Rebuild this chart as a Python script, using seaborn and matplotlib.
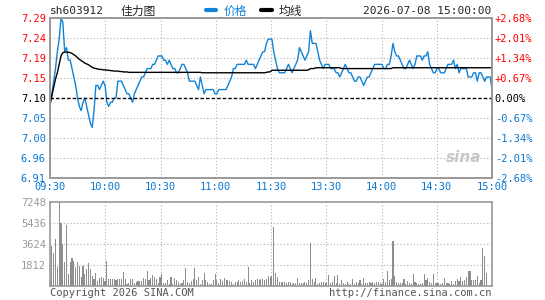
import matplotlib
matplotlib.use("Agg")
import numpy as np
import pandas as pd
import matplotlib.pyplot as plt
from matplotlib.lines import Line2D
import seaborn as sns

# header texts
code = "sh603912"
name = "佳力图"
stamp = "2026-07-08 15:00:00"
prev_close = 7.10

time_labels = ["09:30", "10:00", "10:30", "11:00", "11:30", "13:30", "14:00", "14:30", "15:00"]
price_labels = ["6.91", "6.96", "7.00", "7.05", "7.10", "7.15", "7.19", "7.24", "7.29"]
pct_labels = ["-2.68%", "-2.01%", "-1.34%", "-0.67%", "0.00%", "+0.67%", "+1.34%", "+2.01%", "+2.68%"]
vol_labels = ["1812", "3624", "5436", "7248"]

# minute prices, 09:30-11:30 then 13:00-15:00
price = [
    7.08, 7.11, 7.14, 7.17, 7.21, 7.24, 7.29, 7.28, 7.21, 7.22,
    7.19, 7.19, 7.17, 7.15, 7.13, 7.10, 7.08, 7.07, 7.09, 7.10,
    7.08, 7.06, 7.04, 7.03, 7.07, 7.13, 7.13, 7.12, 7.13, 7.14,
    7.13, 7.09, 7.08, 7.09, 7.09, 7.10, 7.10, 7.14, 7.14, 7.14,
    7.13, 7.12, 7.11, 7.11, 7.10, 7.09, 7.11, 7.12, 7.13, 7.14,
    7.15, 7.15, 7.16, 7.17, 7.17, 7.17, 7.18, 7.18, 7.19, 7.20,
    7.20, 7.20, 7.19, 7.19, 7.18, 7.19, 7.18, 7.17, 7.17, 7.16,
    7.16, 7.17, 7.18, 7.18, 7.17, 7.16, 7.14, 7.14, 7.14, 7.14,
    7.13, 7.12, 7.15, 7.13, 7.11, 7.12, 7.12, 7.12, 7.12, 7.12,
    7.11, 7.11, 7.12, 7.12, 7.12, 7.12, 7.12, 7.13, 7.14, 7.15,
    7.17, 7.17, 7.18, 7.18, 7.18, 7.18, 7.18, 7.19, 7.18, 7.18,
    7.18, 7.18, 7.17, 7.18, 7.19, 7.20, 7.21, 7.21, 7.23, 7.24,
    7.24, 7.24, 7.21, 7.19, 7.17, 7.16, 7.16, 7.16, 7.16, 7.17,
    7.18, 7.17, 7.16, 7.17, 7.18, 7.19, 7.22, 7.21, 7.20, 7.19,
    7.20, 7.21, 7.26, 7.23, 7.23, 7.23, 7.21, 7.19, 7.18, 7.17,
    7.18, 7.18, 7.18, 7.17, 7.17, 7.17, 7.16, 7.16, 7.15, 7.16,
    7.17, 7.18, 7.17, 7.16, 7.16, 7.15, 7.14, 7.14, 7.15, 7.15,
    7.14, 7.13, 7.14, 7.15, 7.15, 7.16, 7.17, 7.18, 7.18, 7.18,
    7.18, 7.18, 7.17, 7.17, 7.18, 7.18, 7.20, 7.23, 7.21, 7.20,
    7.20, 7.19, 7.18, 7.17, 7.17, 7.18, 7.19, 7.18, 7.17, 7.18,
    7.20, 7.20, 7.20, 7.19, 7.20, 7.20, 7.21, 7.18, 7.17, 7.16,
    7.16, 7.17, 7.17, 7.16, 7.16, 7.16, 7.17, 7.18, 7.18, 7.18,
    7.19, 7.17, 7.18, 7.16, 7.17, 7.17, 7.17, 7.17, 7.15, 7.15,
    7.15, 7.16, 7.16, 7.14, 7.16, 7.16, 7.15, 7.14, 7.15, 7.15,
    7.15, 7.12,
]

# average price line
avg_line = [
    7.085, 7.105, 7.125, 7.145, 7.160, 7.180, 7.200, 7.208, 7.209, 7.209,
    7.209, 7.208, 7.206, 7.203, 7.200, 7.196, 7.192, 7.189, 7.186, 7.183,
    7.181, 7.179, 7.176, 7.173, 7.171, 7.170, 7.169, 7.168, 7.168, 7.167,
    7.167, 7.166, 7.166, 7.165, 7.165, 7.164, 7.164, 7.164, 7.163, 7.163,
    7.162, 7.162, 7.162, 7.161, 7.161, 7.161, 7.161, 7.161, 7.161, 7.161,
    7.161, 7.161, 7.161, 7.161, 7.161, 7.161, 7.161, 7.161, 7.161, 7.161,
    7.161, 7.161, 7.161, 7.161, 7.161, 7.161, 7.161, 7.161, 7.161, 7.161,
    7.161, 7.161, 7.161, 7.161, 7.161, 7.161, 7.161, 7.161, 7.161, 7.161,
    7.161, 7.161, 7.161, 7.160, 7.160, 7.160, 7.160, 7.160, 7.160, 7.160,
    7.160, 7.160, 7.160, 7.160, 7.160, 7.160, 7.160, 7.160, 7.160, 7.160,
    7.160, 7.160, 7.160, 7.160, 7.160, 7.160, 7.160, 7.160, 7.160, 7.160,
    7.160, 7.160, 7.160, 7.160, 7.160, 7.160, 7.160, 7.160, 7.161, 7.162,
    7.162, 7.166, 7.166, 7.166, 7.166, 7.166, 7.166, 7.166, 7.166, 7.166,
    7.166, 7.166, 7.166, 7.166, 7.166, 7.166, 7.166, 7.166, 7.166, 7.166,
    7.166, 7.167, 7.170, 7.170, 7.170, 7.172, 7.172, 7.172, 7.172, 7.172,
    7.172, 7.172, 7.172, 7.172, 7.172, 7.172, 7.172, 7.172, 7.172, 7.170,
    7.170, 7.170, 7.170, 7.170, 7.170, 7.170, 7.170, 7.170, 7.170, 7.170,
    7.170, 7.170, 7.170, 7.170, 7.170, 7.170, 7.170, 7.170, 7.170, 7.170,
    7.170, 7.170, 7.170, 7.170, 7.170, 7.170, 7.170, 7.172, 7.172, 7.172,
    7.172, 7.172, 7.172, 7.172, 7.172, 7.172, 7.172, 7.172, 7.172, 7.172,
    7.172, 7.172, 7.172, 7.172, 7.172, 7.172, 7.172, 7.172, 7.172, 7.172,
    7.172, 7.172, 7.172, 7.172, 7.172, 7.172, 7.172, 7.172, 7.172, 7.172,
    7.172, 7.172, 7.172, 7.172, 7.172, 7.172, 7.172, 7.172, 7.172, 7.172,
    7.172, 7.172, 7.172, 7.172, 7.172, 7.172, 7.172, 7.172, 7.172, 7.172,
    7.172, 7.172,
]

# volume per minute (lots)
volume = [
    460, 3410, 2830, 4050, 1680, 7248, 5430, 3640, 2110, 5290,
    1040, 2110, 2400, 2170, 1620, 2110, 1760, 750, 1760, 1040,
    1450, 1970, 1450, 900, 640, 1160, 460, 720, 810, 660,
    400, 2200, 640, 580, 580, 640, 520, 580, 580, 640,
    1240, 640, 170, 230, 640, 640, 290, 350, 430, 460,
    430, 720, 580, 1330, 520, 720, 980, 810, 580, 230,
    810, 1040, 290, 290, 520, 150, 810, 170, 720, 520,
    380, 170, 290, 520, 1530, 380, 230, 460, 640, 1530,
    520, 810, 170, 520, 1100, 520, 380, 170, 170, 520,
    1040, 520, 290, 580, 460, 720, 520, 520, 460, 380,
    170, 380, 380, 520, 380, 460, 640, 380, 1620, 290,
    520, 380, 520, 640, 520, 580, 640, 520, 640, 870,
    810, 870, 5060, 1160, 810, 380, 380, 380, 380, 230,
    380, 380, 170, 230, 290, 720, 230, 290, 290, 380,
    290, 520, 3670, 640, 380, 720, 170, 290, 380, 380,
    290, 380, 980, 230, 380, 870, 230, 920, 170, 520,
    290, 170, 380, 170, 170, 640, 170, 380, 290, 520,
    170, 720, 230, 290, 380, 290, 380, 290, 380, 380,
    230, 170, 640, 380, 1330, 520, 580, 3850, 900, 380,
    290, 290, 230, 640, 170, 460, 230, 170, 1040, 380,
    230, 170, 170, 230, 1040, 520, 720, 380, 230, 1040,
    230, 290, 230, 170, 230, 720, 230, 290, 170, 460,
    170, 460, 580, 460, 810, 460, 520, 810, 1330, 1330,
    520, 520, 520, 900, 290, 520, 3240, 2630, 1160, 0,
    0, 0,
]

df = pd.DataFrame({"minute": np.arange(len(price)), "price": price,
                   "avg": avg_line, "volume": volume})

BLUE = "#1183d6"
TICK_BLUE = "#0a78d2"
RED = "#ff0000"
GREY = "#999999"

sns.set_style("white")
plt.rcParams["font.family"] = ["DejaVu Sans Mono", "Noto Sans CJK SC"]

fig = plt.figure(figsize=(5.45, 3.0), dpi=100)
W, H = 545.0, 300.0
ax = fig.add_axes([50 / W, 1 - 178 / H, 442 / W, 160 / H])
axv = fig.add_axes([50 / W, 1 - 286 / H, 442 / W, 84 / H])

xmax = len(price) - 1
time_pos = np.linspace(0, xmax, len(time_labels))

lo, hi = prev_close * (1 - 0.0268), prev_close * (1 + 0.0268)
ypos = np.linspace(lo, hi, len(price_labels))

sns.lineplot(data=df, x="minute", y="price", ax=ax, color=BLUE, lw=1.0)
sns.lineplot(data=df, x="minute", y="avg", ax=ax, color="black", lw=1.0)
ax.axhline(prev_close, color="black", lw=1.0, ls=(0, (2.5, 1.5)), zorder=3)

ax.set_xlim(0, xmax)
ax.set_ylim(lo, hi)
ax.set_xticks(time_pos)
ax.set_xticklabels(time_labels)
ax.set_yticks(ypos)
ax.set_yticklabels(price_labels)
ax.set_xlabel("")
ax.set_ylabel("")
ax.tick_params(length=0, labelsize=7.5, pad=3)
for t in ax.get_xticklabels():
    t.set_color(TICK_BLUE)
for t, lab in zip(ax.get_yticklabels(), price_labels):
    v = float(lab)
    t.set_color(RED if v > prev_close else ("black" if v == prev_close else TICK_BLUE))

twin = ax.twinx()
twin.set_ylim(lo, hi)
twin.set_yticks(ypos)
twin.set_yticklabels(pct_labels)
twin.tick_params(length=0, labelsize=7.5, pad=2)
for t, lab in zip(twin.get_yticklabels(), pct_labels):
    t.set_color(RED if lab.startswith("+") else (TICK_BLUE if lab.startswith("-") else "black"))

for a in (ax, twin, axv):
    for s in a.spines.values():
        s.set_color(GREY)
        s.set_linewidth(1.2)

grid_kw = dict(color="#b0b0b0", lw=0.8, ls=(0, (1, 2)), zorder=0)
for xp in time_pos[1:-1]:
    ax.axvline(xp, **grid_kw)
    axv.axvline(xp, **grid_kw)
for yp in ypos[1:-1]:
    if abs(yp - prev_close) > 1e-6:
        ax.axhline(yp, **grid_kw)

# volume panel
axv.bar(df["minute"], df["volume"], width=0.6, color="#8e8e8e", linewidth=0)
axv.set_xlim(0, xmax)
axv.set_ylim(0, 7248)
axv.set_xticks([])
vol_pos = [float(v) for v in vol_labels]
axv.set_yticks(vol_pos)
axv.set_yticklabels(vol_labels)
axv.tick_params(length=0, labelsize=7.5, pad=3, labelcolor=GREY)
for yp in vol_pos[:-1]:
    axv.axhline(yp, **grid_kw)

# header
fig.text(50 / W, 1 - 11 / H, code, fontsize=8, va="center", ha="left")
fig.text(121 / W, 1 - 11 / H, name, fontsize=8.5, va="center", ha="left",
         family=["Noto Sans CJK SC", "DejaVu Sans"])
handles = [Line2D([], [], color=BLUE, lw=3), Line2D([], [], color="black", lw=3)]
leg = fig.legend(handles, ["价格", "均线"], loc="center left", ncol=2,
                 bbox_to_anchor=(195 / W, 1 - 11 / H), frameon=False,
                 handlelength=0.9, handletextpad=0.6, columnspacing=1.2,
                 prop={"family": ["Noto Sans CJK SC", "DejaVu Sans"], "size": 8.5})
leg.get_texts()[0].set_color(BLUE)
fig.text(491 / W, 1 - 11 / H, stamp, fontsize=8, va="center", ha="right")

# footer
fig.text(50 / W, 1 - 293 / H, "Copyright 2026 SINA.COM", fontsize=7.5,
         va="center", ha="left", color="#555555")
fig.text(491 / W, 1 - 293 / H, "http://finance.sina.com.cn", fontsize=7.5,
         va="center", ha="right", color="#555555")

# watermark
ax.text(0.975, 0.13, "sina", transform=ax.transAxes, ha="right", va="center",
        fontsize=11, fontweight="bold", fontstyle="italic", color="#c8c8c8",
        family="DejaVu Sans")

fig.savefig("out.png", dpi=100)
